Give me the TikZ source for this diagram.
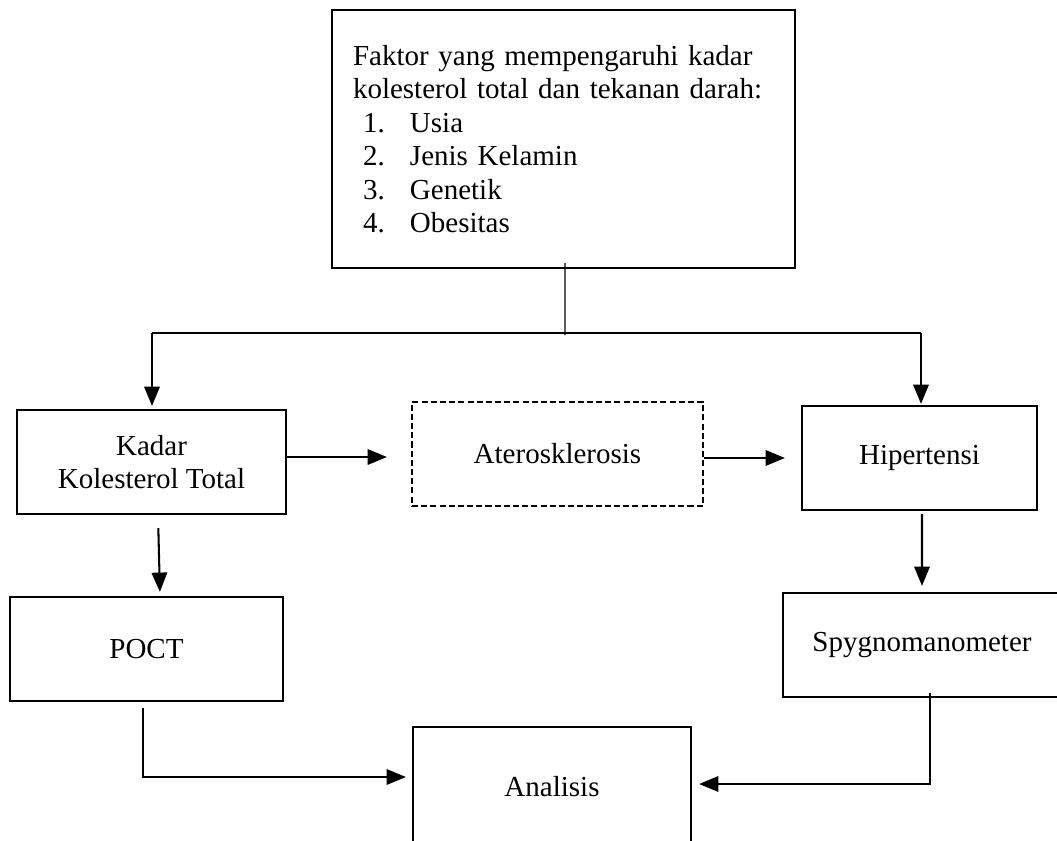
\documentclass[tikz,border=0pt]{standalone}
\usepackage{fontspec}
\setmainfont{Liberation Serif}
\usetikzlibrary{arrows.meta,calc}
\newlength\pxu
\setlength\pxu{0.4138pt}
\tikzset{
  boxnode/.style={draw, line width=0.9pt, inner sep=0pt, minimum height=104\pxu,
    font=\fontsize{12}{13.85}\selectfont, align=center},
  dashbox/.style={boxnode, dash pattern=on 2.5pt off 1.3pt},
  arr/.style={line width=0.85pt, -{Triangle[length=8pt,width=6.4pt]}},
  thin/.style={line width=0.55pt}
}
\begin{document}
\begin{tikzpicture}[x=0.4138pt, y=-0.4138pt]
\useasboundingbox (0,0) rectangle (1057,841);
\clip (0,0) rectangle (1057,841);

\node[boxnode, minimum width=463\pxu, minimum height=258\pxu, text width=421\pxu, align=left] (fak) at (563.5,139)
 {Faktor yang mempengaruhi kadar\\
  kolesterol total dan tekanan darah:\\
  \hspace*{10\pxu}\makebox[47\pxu][l]{1.}Usia\\
  \hspace*{10\pxu}\makebox[47\pxu][l]{2.}Jenis Kelamin\\
  \hspace*{10\pxu}\makebox[47\pxu][l]{3.}Genetik\\
  \hspace*{10\pxu}\makebox[47\pxu][l]{4.}Obesitas};

\node[boxnode, minimum width=269\pxu] (kadar) at (151.5,462) {Kadar\\Kolesterol Total};
\node[dashbox, minimum width=291\pxu] (ateros) at (557.5,454) {Aterosklerosis};
\node[boxnode, minimum width=235\pxu] (hip) at (919.5,458) {Hipertensi};
\node[boxnode, minimum width=273\pxu] (poct) at (146.5,649) {POCT};
\node[boxnode, minimum width=278\pxu] (spyg) at (922,645) {Spygnomanometer};
\node[boxnode, minimum width=278\pxu, minimum height=120\pxu] (ana) at (552,787) {Analisis};

\coordinate (jn) at (565,333);
\coordinate (jl) at (152,333);
\coordinate (jr) at (921,333);

\draw[thin] ([xshift=1.5\pxu,yshift=6\pxu]fak.south) -- ([yshift=-2\pxu]jn);
\draw[thin] (jl) -- (jr);
\draw[arr, shorten >=3\pxu] (jl) -- (jl |- kadar.north);
\draw[arr, shorten >=1\pxu] (jr) -- (jr |- hip.north);

\draw[arr, shorten >=24\pxu] ([yshift=5\pxu]kadar.east) -- ([yshift=5\pxu]kadar.east -| ateros.west);
\draw[arr, shorten >=16\pxu] (hip.west -| ateros.east) -- (hip.west);

\draw[arr, shorten <=13\pxu, shorten >=4\pxu] ([xshift=6.5\pxu]kadar.south) -- ([xshift=13.5\pxu]poct.north);
\draw[arr, shorten <=3\pxu, shorten >=6\pxu] ([xshift=2.5\pxu]hip.south) -- (spyg.north);

\draw[arr, shorten >=6\pxu] ([xshift=-3.5\pxu,yshift=-6\pxu]poct.south) |- ([yshift=10\pxu]ana.west);
\draw[arr, shorten >=7\pxu] ([xshift=8\pxu,yshift=5\pxu]spyg.south) |- ([yshift=3\pxu]ana.east);
\end{tikzpicture}
\end{document}
